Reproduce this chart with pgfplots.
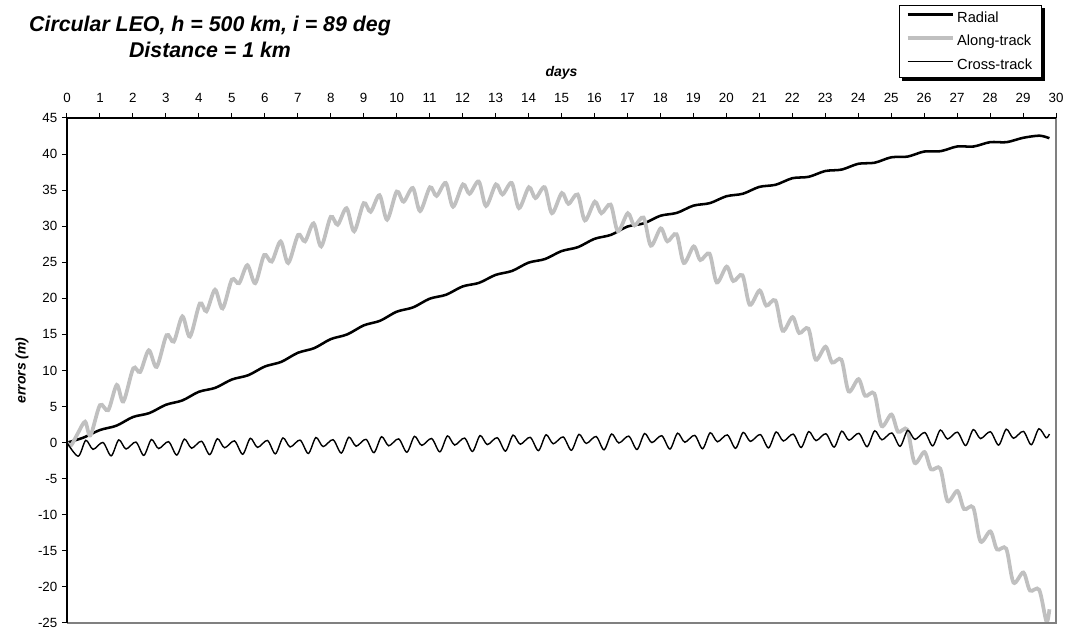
\documentclass[border=0pt]{standalone}
\usepackage{fontspec}
\setmainfont{Liberation Sans}
\usepackage{pgfplots}
\pgfplotsset{compat=1.18}

\definecolor{alonggray}{RGB}{192,192,192}
\definecolor{framegray}{RGB}{128,128,128}

\begin{document}
\begin{tikzpicture}
\begin{axis}[
  scale only axis,
  width=741.75pt, height=378.75pt,
  xmin=0, xmax=30, ymin=-25, ymax=45,
  xtick={0,1,...,30}, ytick={-25,-20,...,45},
  xtick pos=right, xticklabel pos=right,
  ytick pos=left, yticklabel pos=left,
  tick align=outside, major tick length=3.75pt,
  tick style={black, line width=0.75pt},
  axis line style={draw=none},
  clip mode=individual,
  /pgf/number format/assume math mode=true,
  tick label style={font=\fontsize{10}{12}\selectfont},
  xticklabel style={yshift=4.5pt},
  legend cell align=left,
  legend image code/.code={\draw[#1] (0pt,2.6pt) -- (33.75pt,2.6pt);},
  legend style={name=leg, at={(axis description cs:0.9858,1.2238)}, anchor=north east,
    draw=black, line width=0.75pt, fill=white,
    font=\fontsize{11}{13}\selectfont,
    inner xsep=5pt, inner ysep=2.5pt, row sep=4.2pt},
]
% Radial
\addplot[black, line width=1.9pt, smooth] coordinates {
(0,0) (0.5,0.7) (1,1.75) (1.5,2.35) (2,3.55) (2.5,4.1) (3,5.25) (3.5,5.85)
(4,7.05) (4.5,7.6) (5,8.75) (5.5,9.35) (6,10.55) (6.5,11.2) (7,12.45) (7.5,13.1)
(8,14.35) (8.5,15.0) (9,16.25) (9.5,16.9) (10,18.15) (10.5,18.75) (11,19.95)
(11.5,20.5) (12,21.65) (12.5,22.15) (13,23.25) (13.5,23.8) (14,24.95) (14.5,25.45)
(15,26.55) (15.5,27.1) (16,28.25) (16.5,28.8) (17,29.95) (17.5,30.4) (18,31.45)
(18.5,31.85) (19,32.85) (19.5,33.2) (20,34.15) (20.5,34.5) (21,35.45) (21.5,35.75)
(22,36.65) (22.5,36.85) (23,37.65) (23.5,37.85) (24,38.65) (24.5,38.8) (25,39.55)
(25.5,39.65) (26,40.35) (26.5,40.4) (27,41.05) (27.5,41.05) (28,41.65) (28.5,41.65)
(29,42.25) (29.5,42.55) (29.8,42.2)
};
\addlegendentry{Radial}
% Along-track
\addplot[alonggray, line width=2.8pt, smooth] coordinates {
(0,0) (0.12,-0.4) (0.33,1.3) (0.55,2.9) (0.71,1.0)
(1.0,5.2) (1.25,4.5) (1.51,8.0) (1.71,5.7)
(2.01,10.3) (2.22,9.8) (2.48,12.8) (2.72,10.5)
(3.02,14.9) (3.24,14.0) (3.5,17.5) (3.73,14.7)
(4.03,19.3) (4.23,18.2) (4.49,21.2) (4.72,18.6)
(5.0,22.6) (5.22,22.1) (5.47,24.6) (5.71,22.1)
(5.98,26.0) (6.21,25.1) (6.48,27.9) (6.71,24.9)
(7.01,28.8) (7.22,27.9) (7.48,30.4) (7.71,27.2)
(8.0,31.3) (8.21,30.2) (8.48,32.5) (8.71,29.3)
(9.0,33.2) (9.21,32.0) (9.48,34.3) (9.71,30.9)
(10.0,34.8) (10.21,33.4) (10.49,35.3) (10.71,32.1)
(11.01,35.4) (11.21,34.2) (11.49,36.0) (11.71,32.7)
(12.01,35.8) (12.21,34.5) (12.49,36.2) (12.71,32.8)
(13.01,35.8) (13.21,34.4) (13.49,36.0) (13.71,32.5)
(14.01,35.4) (14.21,33.9) (14.49,35.4) (14.71,31.8)
(15.01,34.6) (15.21,33.1) (15.49,34.4) (15.71,30.8)
(16.01,33.4) (16.21,31.8) (16.49,33.0) (16.71,29.3)
(17.01,31.8) (17.21,30.1) (17.49,31.2) (17.71,27.3)
(18.01,29.7) (18.21,27.9) (18.49,28.9) (18.71,24.9)
(19.01,27.2) (19.21,25.3) (19.49,26.2) (19.71,22.2)
(20.01,24.4) (20.21,22.4) (20.49,23.2) (20.71,19.1)
(21.01,21.1) (21.21,19.0) (21.49,19.7) (21.71,15.5)
(22.01,17.4) (22.21,15.2) (22.49,15.8) (22.71,11.5)
(23.01,13.3) (23.21,11.1) (23.49,11.5) (23.71,7.1)
(24.01,8.8) (24.21,6.5) (24.49,6.8) (24.71,2.3)
(25.01,3.9) (25.21,1.5) (25.49,1.8) (25.71,-2.8)
(26.01,-1.3) (26.21,-3.7) (26.49,-3.6) (26.71,-8.1)
(27.01,-6.7) (27.21,-9.2) (27.49,-9.0) (27.71,-13.7)
(28.01,-12.3) (28.21,-14.8) (28.49,-14.7) (28.71,-19.4)
(29.01,-18.0) (29.21,-20.5) (29.49,-20.4) (29.71,-24.8)
(29.8,-23.1)
};
\addlegendentry{Along-track}
% Cross-track
\addplot[black, line width=1.05pt, smooth] coordinates {
(0,0)
(0.34,-1.88) (0.57,0.32) (0.79,-0.93) (1.09,0.02)
(1.34,-1.83) (1.57,0.38) (1.79,-0.88) (2.09,0.08)
(2.33,-1.77) (2.56,0.43) (2.78,-0.82) (3.08,0.13)
(3.33,-1.72) (3.56,0.49) (3.78,-0.77) (4.08,0.19)
(4.33,-1.66) (4.56,0.54) (4.78,-0.71) (5.08,0.24)
(5.33,-1.61) (5.56,0.60) (5.78,-0.66) (6.08,0.30)
(6.32,-1.55) (6.55,0.65) (6.77,-0.60) (7.07,0.35)
(7.32,-1.50) (7.55,0.71) (7.77,-0.55) (8.07,0.41)
(8.32,-1.44) (8.55,0.76) (8.77,-0.49) (9.07,0.46)
(9.31,-1.39) (9.54,0.82) (9.76,-0.44) (10.06,0.52)
(10.31,-1.33) (10.54,0.87) (10.76,-0.38) (11.06,0.57)
(11.31,-1.28) (11.54,0.93) (11.76,-0.33) (12.06,0.63)
(12.30,-1.22) (12.53,0.98) (12.75,-0.27) (13.05,0.68)
(13.30,-1.17) (13.53,1.04) (13.75,-0.22) (14.05,0.74)
(14.30,-1.11) (14.53,1.09) (14.75,-0.16) (15.05,0.79)
(15.30,-1.06) (15.53,1.15) (15.75,-0.11) (16.05,0.85)
(16.29,-1.00) (16.52,1.20) (16.74,-0.05) (17.04,0.90)
(17.29,-0.95) (17.52,1.26) (17.74,0.01) (18.04,0.96)
(18.29,-0.89) (18.52,1.31) (18.74,0.06) (19.04,1.01)
(19.28,-0.84) (19.51,1.37) (19.73,0.12) (20.03,1.07)
(20.28,-0.78) (20.51,1.42) (20.73,0.17) (21.03,1.12)
(21.28,-0.73) (21.51,1.48) (21.73,0.23) (22.03,1.18)
(22.27,-0.67) (22.50,1.53) (22.72,0.28) (23.02,1.23)
(23.27,-0.62) (23.50,1.59) (23.72,0.34) (24.02,1.29)
(24.27,-0.56) (24.50,1.64) (24.72,0.39) (25.02,1.34)
(25.27,-0.51) (25.50,1.70) (25.72,0.45) (26.02,1.40)
(26.26,-0.45) (26.49,1.75) (26.71,0.50) (27.01,1.45)
(27.26,-0.40) (27.49,1.81) (27.71,0.56) (28.01,1.51)
(28.26,-0.34) (28.49,1.86) (28.71,0.61) (29.01,1.56)
(29.25,-0.29) (29.48,1.92) (29.70,0.67) (29.8,1.2)
};
\addlegendentry{Cross-track}

% plot area border: black left/top, grey right/bottom
\draw[framegray, line width=1.1pt] (rel axis cs:1,1) -- (rel axis cs:1,0) -- (rel axis cs:0,0);
\draw[black, line width=1.1pt] (rel axis cs:0,0) -- (rel axis cs:0,1) -- (rel axis cs:1,1);

\node[anchor=base, font=\fontsize{16}{19}\selectfont\bfseries\itshape]
  at (axis description cs:0.1446,1.1703) {Circular LEO, h = 500 km, i = 89 deg};
\node[anchor=base, font=\fontsize{16}{19}\selectfont\bfseries\itshape]
  at (axis description cs:0.1446,1.1188) {Distance = 1 km};
\node[anchor=base, font=\fontsize{10.5}{12}\selectfont\bfseries\itshape]
  at (axis description cs:0.5,1.0812) {days};
\node[rotate=90, font=\fontsize{10.5}{12}\selectfont\bfseries\itshape]
  at (axis description cs:-0.0455,0.5) {errors (m)};

\coordinate (bl) at (rel axis cs:0,0);
\coordinate (tr) at (rel axis cs:1,1);
\end{axis}
% legend drop shadow (right and bottom strips)
\fill[black] ([yshift=-2.2pt]leg.north east) rectangle ([xshift=2.2pt,yshift=-2.2pt]leg.south east);
\fill[black] ([xshift=2.2pt]leg.south west) rectangle ([xshift=2.2pt,yshift=-2.2pt]leg.south east);
\path (bl) ++(-50.25pt,-5.25pt) coordinate (A);
\path (tr) ++(7.5pt,88.5pt) coordinate (B);
\pgfresetboundingbox
\path[use as bounding box] (A) rectangle (B);
\end{tikzpicture}
\end{document}
